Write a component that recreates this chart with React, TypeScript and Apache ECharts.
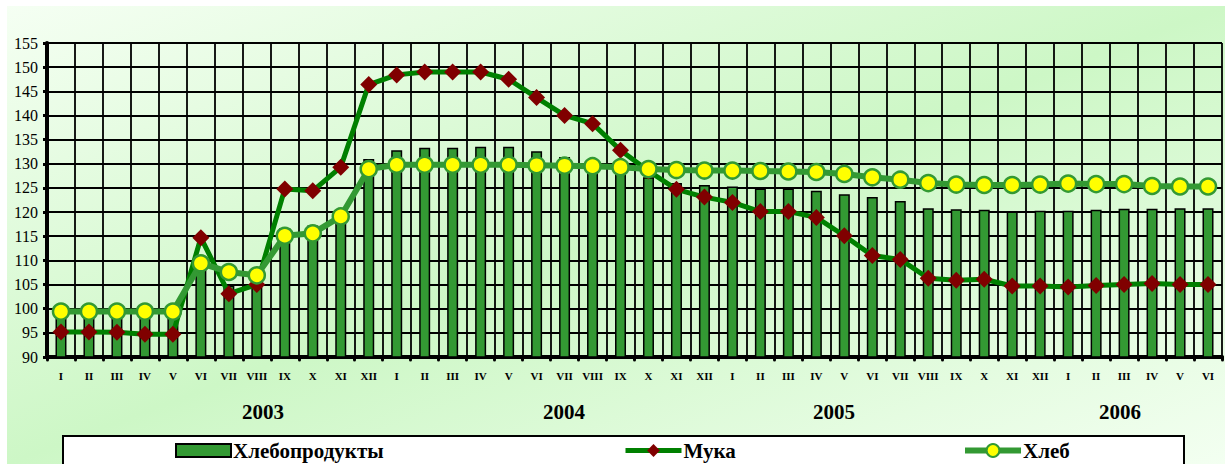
import React, { useEffect, useRef } from 'react';
import * as echarts from 'echarts';

const months = ['I', 'II', 'III', 'IV', 'V', 'VI', 'VII', 'VIII', 'IX', 'X', 'XI', 'XII'];
const years = ['2003', '2004', '2005', '2006'];
const monthsPerYear = [12, 12, 12, 6];

const categories = years.flatMap((y, i) => months.slice(0, monthsPerYear[i]).map((m) => `${m} ${y}`));

const seriesNames = ['Хлебопродукты', 'Мука', 'Хлеб'];

const breadProducts = [
  99.5, 99.4, 99.3, 99.2, 99.3, 110.3, 104.8, 106.0, 116.7, 117.2, 120.0, 131.0,
  132.8, 133.3, 133.3, 133.5, 133.5, 132.6, 131.4, 130.8, 129.5, 127.2, 126.0, 125.6,
  125.3, 124.9, 124.9, 124.4, 123.7, 123.1, 122.3, 120.8, 120.6, 120.5, 120.1, 120.3,
  120.3, 120.5, 120.7, 120.7, 120.8, 120.8,
];

const flour = [
  95.2, 95.2, 95.1, 94.7, 94.7, 114.7, 103.1, 105.0, 124.8, 124.4, 129.3, 146.4,
  148.4, 149.0, 149.0, 149.0, 147.5, 143.7, 140.0, 138.3, 132.8, 128.5, 124.7, 123.1,
  122.0, 120.1, 120.1, 118.9, 115.1, 111.0, 110.2, 106.3, 105.9, 106.1, 104.7, 104.7,
  104.5, 104.8, 105.0, 105.2, 105.0, 105.0,
];

const bread = [
  99.4, 99.4, 99.4, 99.4, 99.4, 109.4, 107.6, 106.9, 115.1, 115.6, 119.1, 128.9,
  129.8, 129.8, 129.8, 129.8, 129.8, 129.7, 129.6, 129.5, 129.3, 128.9, 128.7, 128.6,
  128.6, 128.5, 128.4, 128.3, 127.9, 127.2, 126.7, 126.0, 125.7, 125.6, 125.6, 125.7,
  125.9, 125.8, 125.8, 125.4, 125.3, 125.3,
];

const yMin = 90;
const yMax = 155;
const yStep = 5;

// layout (pixel positions of the year captions)
const yearLabelX = [263, 564, 834, 1120];

const SERIF = "'Liberation Serif', 'Times New Roman', serif";

export default function App() {
  const ref = useRef<HTMLDivElement>(null);

  useEffect(() => {
    if (!ref.current) return;
    const chart = echarts.init(ref.current, undefined, { renderer: 'svg' });

    const bgGradient = new echarts.graphic.LinearGradient(0, 0, 1, 1, [
      { offset: 0, color: '#f5fff3' },
      { offset: 0.5, color: '#cdf7c6' },
      { offset: 1, color: '#f3fff1' },
    ]);

    const legendText = { color: '#000', fontFamily: SERIF, fontWeight: 'bold', fontSize: 21, padding: [3, 0, 0, -3] };

    chart.setOption({
      animation: false,
      backgroundColor: '#ffffff',
      grid: { left: 47, right: 3, top: 43, bottom: 107, containLabel: false },
      xAxis: {
        type: 'category',
        data: categories,
        boundaryGap: true,
        axisLine: { show: true, lineStyle: { color: '#000', width: 4 } },
        axisTick: { show: true, inside: false, length: 3, lineStyle: { color: '#000', width: 3, cap: 'round' } },
        axisLabel: {
          interval: 0,
          margin: 13,
          color: '#000',
          fontFamily: SERIF,
          fontWeight: 'bold',
          fontSize: 11,
          formatter: (v: string) => v.split(' ')[0],
        },
        splitLine: { show: true, interval: 0, lineStyle: { color: '#000', width: 1.8 } },
      },
      yAxis: {
        type: 'value',
        min: yMin,
        max: yMax,
        interval: yStep,
        axisLine: { show: true, lineStyle: { color: '#000', width: 4 } },
        axisTick: { show: true, length: 4, lineStyle: { color: '#000', width: 3 } },
        axisLabel: { color: '#000', fontFamily: SERIF, fontSize: 16, margin: 9 },
        splitLine: { show: true, lineStyle: { color: '#000', width: 2 } },
      },
      legend: [
        {
          data: [{ name: seriesNames[0], icon: 'rect' }],
          left: 175,
          top: 440,
          padding: 0,
          itemWidth: 55,
          itemHeight: 13,
          itemGap: 0,
          textStyle: legendText,
        },
        {
          data: [seriesNames[1]],
          left: 623,
          top: 440,
          padding: 0,
          itemWidth: 56,
          itemHeight: 16,
          lineStyle: { width: 5 },
          textStyle: legendText,
        },
        {
          data: [seriesNames[2]],
          left: 962,
          top: 440,
          padding: 0,
          itemWidth: 56,
          itemHeight: 16,
          lineStyle: { width: 6 },
          textStyle: legendText,
        },
      ],
      graphic: [
        {
          type: 'rect',
          z: -10,
          silent: true,
          shape: { x: 7, y: 6, width: 1218, height: 458 },
          style: { fill: bgGradient },
        },
        {
          type: 'rect',
          z: 3,
          silent: true,
          shape: { x: 63, y: 436, width: 1121, height: 40 },
          style: { fill: '#ffffff', stroke: '#000', lineWidth: 2 },
        },
        ...years.map((y, i) => ({
          type: 'text',
          z: 5,
          silent: true,
          x: yearLabelX[i],
          y: 412,
          style: {
            text: y,
            fill: '#000',
            font: `bold 21px ${SERIF}`,
            align: 'center',
            verticalAlign: 'middle',
          },
        })),
      ],
      series: [
        {
          name: seriesNames[0],
          type: 'bar',
          data: breadProducts,
          barWidth: 11,
          itemStyle: { color: '#339933', borderColor: '#000', borderWidth: 1.5 },
          z: 2,
        },
        {
          name: seriesNames[1],
          type: 'line',
          data: flour,
          symbol: 'diamond',
          symbolSize: 17,
          lineStyle: { color: '#008000', width: 5 },
          itemStyle: { color: '#800000', borderColor: '#800000', borderWidth: 0 },
          z: 3,
        },
        {
          name: seriesNames[2],
          type: 'line',
          data: bread,
          symbol: 'circle',
          symbolSize: 16,
          lineStyle: { color: '#339933', width: 6 },
          itemStyle: { color: '#ffff00', borderColor: '#339933', borderWidth: 2.5 },
          z: 4,
        },
      ],
    });

    return () => chart.dispose();
  }, []);

  return (
    <div
      ref={ref}
      style={{ position: 'fixed', left: 0, top: 0, width: 1225, height: 464 }}
    />
  );
}
